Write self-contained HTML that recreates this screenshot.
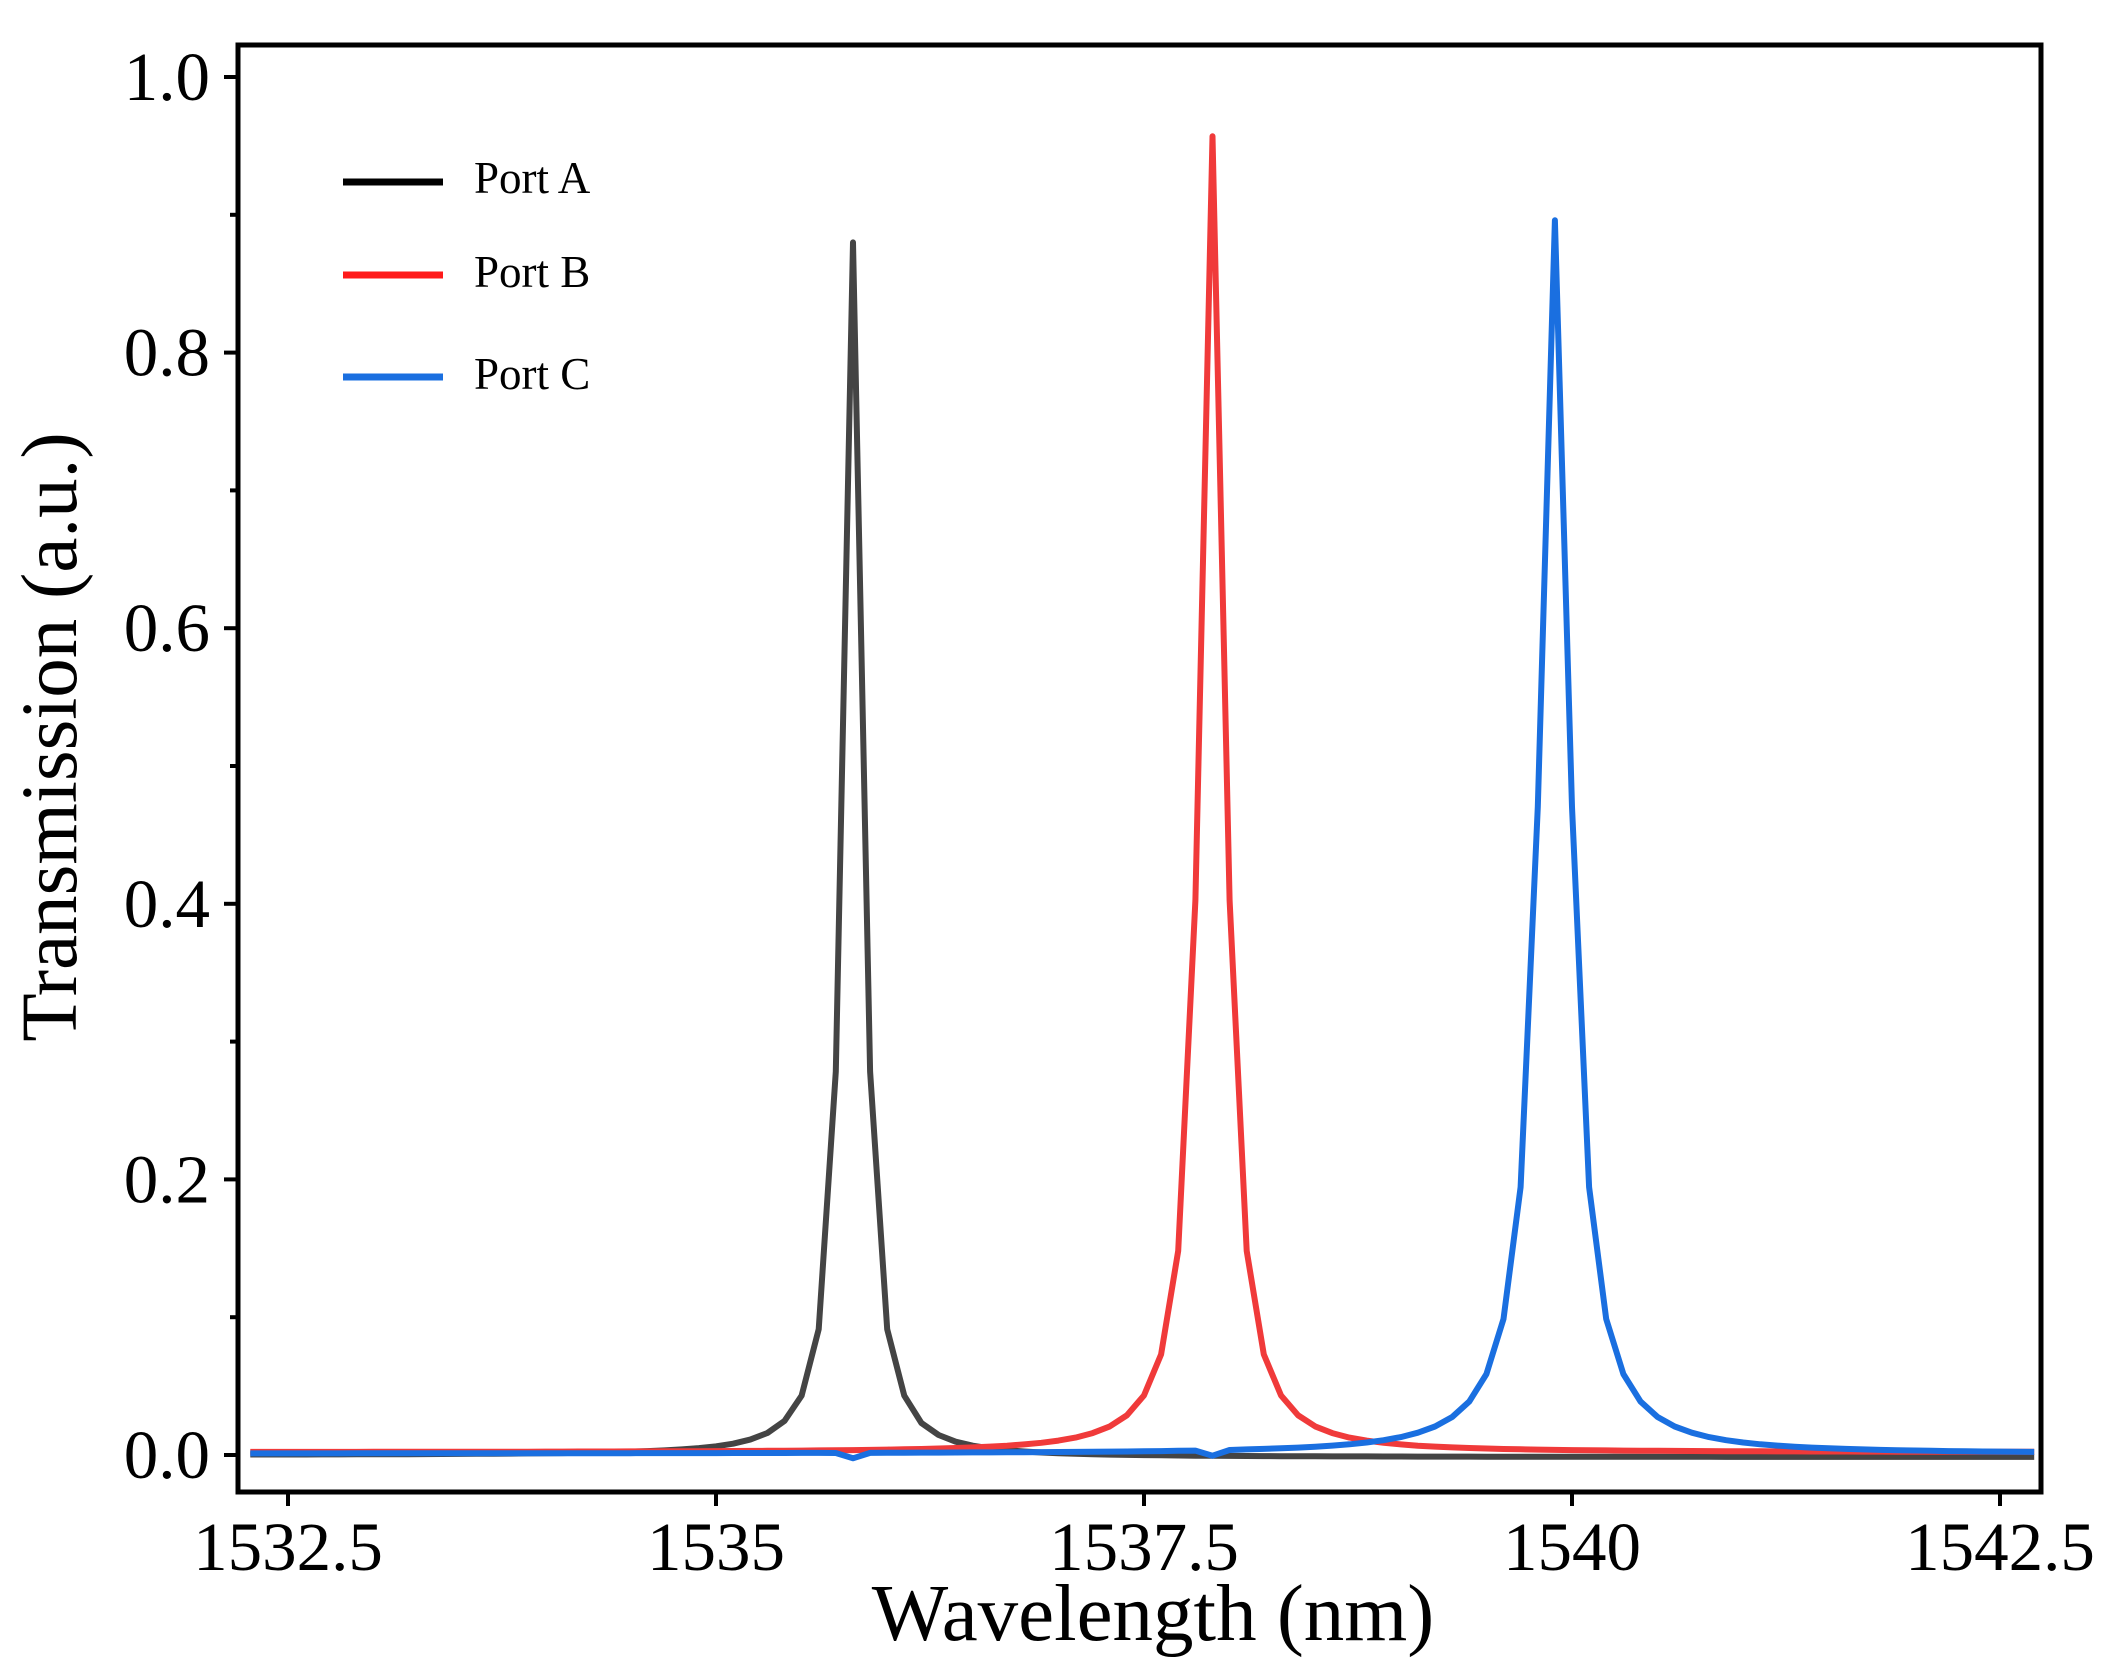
<!DOCTYPE html>
<html><head><meta charset="utf-8"><style>
html,body{margin:0;padding:0;background:#fff;}
svg{display:block;}
text{font-family:"Liberation Serif",serif;fill:#000;}
</style></head><body>
<svg id="s" width="2119" height="1679" viewBox="0 0 2119 1679" xmlns="http://www.w3.org/2000/svg">
<rect x="0" y="0" width="2119" height="1679" fill="#fff"/>
<g id="curves" fill="none" stroke-width="6" stroke-linejoin="round"></g>
<rect x="238" y="45" width="1803" height="1447" fill="none" stroke="#000" stroke-width="5"/>
<g id="ticks" stroke="#000" stroke-width="4"></g>
<g id="labels" font-size="69"></g>
<text x="1153" y="1640" font-size="81" text-anchor="middle">Wavelength (nm)</text>
<text transform="translate(76,737) rotate(-90)" font-size="79" text-anchor="middle">Transmission (a.u.)</text>
<line x1="343" y1="182" x2="443" y2="182" stroke="#000" stroke-width="7"/>
<line x1="343" y1="275" x2="443" y2="275" stroke="#ff1a1a" stroke-width="7"/>
<line x1="343" y1="377" x2="443" y2="377" stroke="#1a6fe0" stroke-width="7"/>
<text x="474" y="193" font-size="45">Port A</text>
<text x="474" y="287" font-size="45">Port B</text>
<text x="474" y="389" font-size="45">Port C</text>
</svg>
<script>
var NS="http://www.w3.org/2000/svg";
function X(l){return 288+(l-1532.5)*171.2;}
function Y(v){return 1455-v*1378;}
var t=document.getElementById('ticks'),lb=document.getElementById('labels');
function el(p,tag,a,txt){var e=document.createElementNS(NS,tag);for(var k in a)e.setAttribute(k,a[k]);if(txt)e.textContent=txt;p.appendChild(e);return e;}
var xl=["1532.5","1535","1537.5","1540","1542.5"];
for(var i=0;i<5;i++){var x=X(1532.5+2.5*i);el(t,'line',{x1:x,y1:1492,x2:x,y2:1506});el(lb,'text',{x:x,y:1570,'text-anchor':'middle'},xl[i]);}
for(var i=0;i<=10;i++){var y=Y(i*0.1);var maj=i%2==0;el(t,'line',{x1:238,y1:y,x2:maj?224:230,y2:y});if(maj)el(lb,'text',{x:210,y:y+23,'text-anchor':'end'},(i/10).toFixed(1));}
function lor(l,c,a,g){var d=(l-c)/g;return a/(1+d*d);}
function dip(l,c){var d=(l-c)/0.05;return -0.004*Math.exp(-d*d);}
var cg=document.getElementById('curves');
function pathPk(f,col,c){var d="";var start=c-Math.ceil((c-1532.28)/0.1)*0.1;var pts=[];pts.push(1532.28);for(var l=start;l<=1542.7;l+=0.1)if(l>1532.28)pts.push(l);pts.push(1542.7);
pts.forEach(function(l){d+=(d?"L":"M")+X(l).toFixed(1)+","+Y(f(l)).toFixed(1);});el(cg,'path',{d:d,stroke:col});}
pathPk(function(l){var v=lor(l,1535.8,0.88,0.068);if(l>1536.1)v-=0.0015;return v;},"#444",1535.8);
pathPk(function(l){return lor(l,1537.9,0.955,0.085)+0.002;},"#f03a3a",1537.9);
pathPk(function(l){return lor(l,1539.9,0.895,0.105)+0.001+dip(l,1535.8)+dip(l,1537.9);},"#1a6fe0",1539.9);
</script>
</body></html>
